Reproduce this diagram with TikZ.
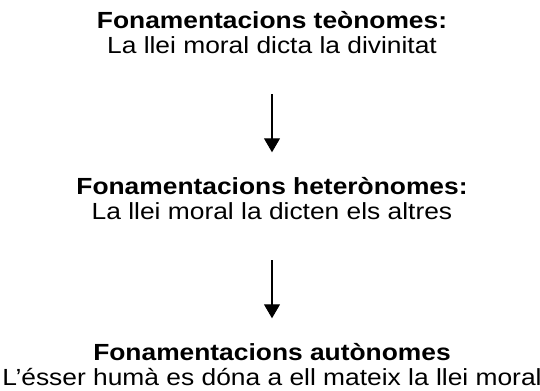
\documentclass[tikz,border=0pt]{standalone}
\usepackage{fontspec}
\setmainfont[FakeStretch=1.13]{Liberation Sans}
\usetikzlibrary{arrows.meta}

\begin{document}
\begin{tikzpicture}[x=0.75pt,y=0.75pt,
  block/.style={align=center,inner sep=0pt,font=\fontsize{17.5}{18.7}\selectfont},
  flow/.style={-{Triangle[width=12pt,length=10.5pt]},line width=0.8pt}]
  \useasboundingbox (0,0) rectangle (540,-390);
  \node[block] (teo) at (272,-33) {\textbf{Fonamentacions teònomes:}\\La llei moral dicta la divinitat};
  \node[block] (hetero) at (272,-199) {\textbf{Fonamentacions heterònomes:}\\La llei moral la dicten els altres};
  \node[block] (auto) at (272,-365) {\textbf{Fonamentacions autònomes}\\L’ésser humà es dóna a ell mateix la llei moral};
  \draw[flow,shorten <=30pt,shorten >=19pt] (teo.south) -- (hetero.north);
  \draw[flow,shorten <=30pt,shorten >=19pt] (hetero.south) -- (auto.north);
\end{tikzpicture}
\end{document}
